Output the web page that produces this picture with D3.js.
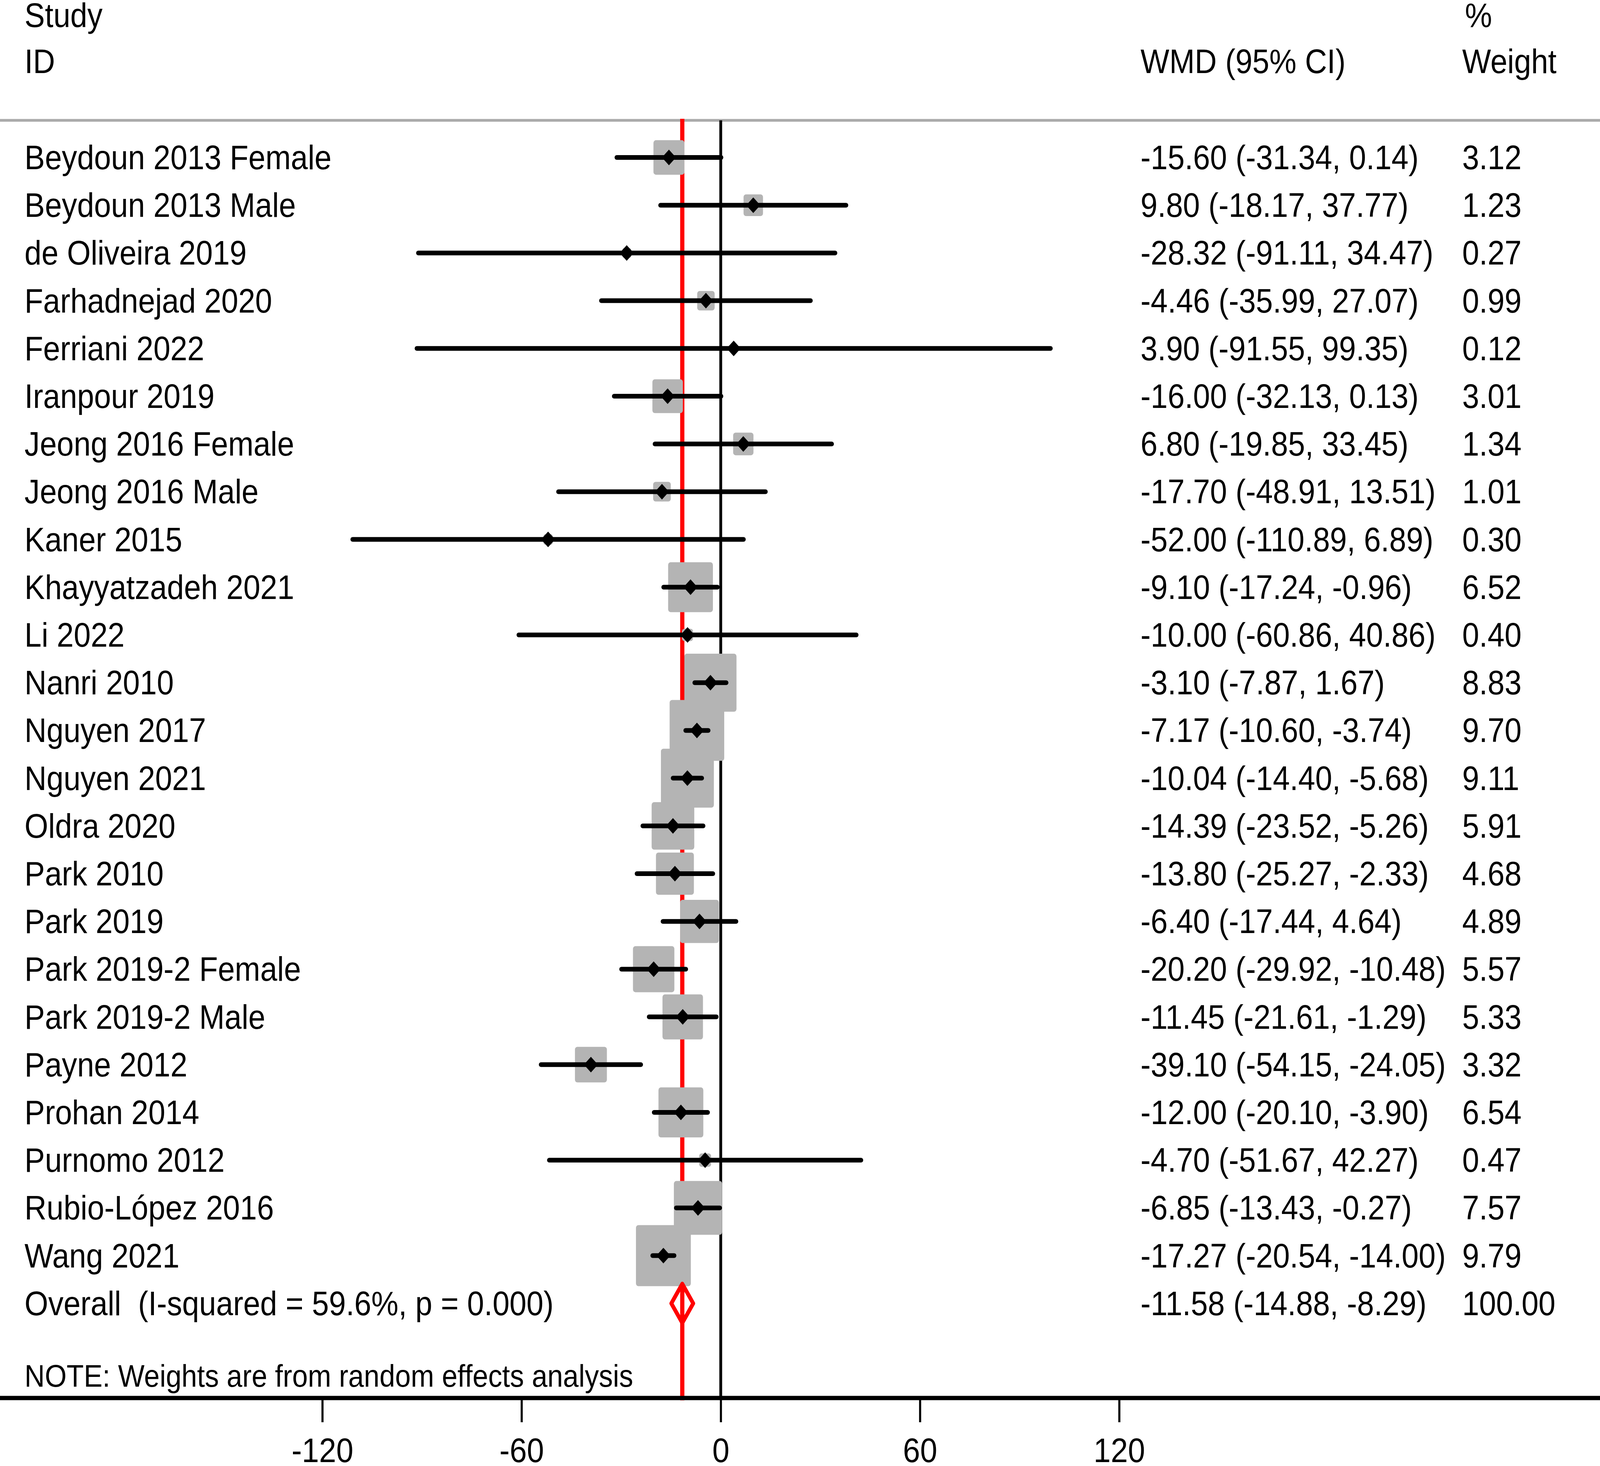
<!DOCTYPE html>
<html>
<head>
<meta charset="utf-8">
<script src="https://cdn.jsdelivr.net/npm/d3@7"></script>
<style>
  html, body { margin: 0; padding: 0; background: #fff; overflow: hidden; }
  svg { display: block; }
  text { font-family: "Liberation Sans", Arial, sans-serif; fill: #000; }
</style>
</head>
<body>
<svg id="forest"></svg>
<script>
var width = 4562,
    height = 3752;

// data
var studies = [
    'Beydoun 2013 Female', 'Beydoun 2013 Male', 'de Oliveira 2019', 'Farhadnejad 2020',
    'Ferriani 2022', 'Iranpour 2019', 'Jeong 2016 Female', 'Jeong 2016 Male',
    'Kaner 2015', 'Khayyatzadeh 2021', 'Li 2022', 'Nanri 2010', 'Nguyen 2017',
    'Nguyen 2021', 'Oldra 2020', 'Park 2010', 'Park 2019', 'Park 2019-2 Female',
    'Park 2019-2 Male', 'Payne 2012', 'Prohan 2014', 'Purnomo 2012',
    'Rubio-López 2016', 'Wang 2021'
];
var wmd = [-15.60, 9.80, -28.32, -4.46, 3.90, -16.00, 6.80, -17.70, -52.00, -9.10,
    -10.00, -3.10, -7.17, -10.04, -14.39, -13.80, -6.40, -20.20, -11.45, -39.10,
    -12.00, -4.70, -6.85, -17.27];
var lower = [-31.34, -18.17, -91.11, -35.99, -91.55, -32.13, -19.85, -48.91, -110.89,
    -17.24, -60.86, -7.87, -10.60, -14.40, -23.52, -25.27, -17.44, -29.92, -21.61,
    -54.15, -20.10, -51.67, -13.43, -20.54];
var upper = [0.14, 37.77, 34.47, 27.07, 99.35, 0.13, 33.45, 13.51, 6.89, -0.96,
    40.86, 1.67, -3.74, -5.68, -5.26, -2.33, 4.64, -10.48, -1.29, -24.05, -3.90,
    42.27, -0.27, -14.00];
var weights = [3.12, 1.23, 0.27, 0.99, 0.12, 3.01, 1.34, 1.01, 0.30, 6.52, 0.40, 8.83,
    9.70, 9.11, 5.91, 4.68, 4.89, 5.57, 5.33, 3.32, 6.54, 0.47, 7.57, 9.79];
var overall = { label: 'Overall  (I-squared = 59.6%, p = 0.000)', est: -11.58, lo: -14.88, hi: -8.29, weight: 100 };
var xTicks = [-120, -60, 0, 60, 120];

var rows = studies.map(function (name, i) {
    return { name: name, est: wmd[i], lo: lower[i], hi: upper[i], weight: weights[i] };
});

// scale the drawing to whatever viewport the page gets
var svg = d3.select('svg#forest')
    .attr('viewBox', '0 0 ' + width + ' ' + height)
    .attr('preserveAspectRatio', 'none')
    .style('width', '100vw')
    .style('height', '100vh');

var x = d3.scaleLinear().domain([-120, 120]).range([919, 3191]);
var y = d3.scaleLinear().domain([0, studies.length]).range([403, 403 + 122.2 * studies.length]);
var boxSide = d3.scaleSqrt().domain([0, 1]).range([0, 50]);

var fmt = d3.formatLocale({ decimal: '.', thousands: ',', grouping: [3], currency: ['', ''], minus: '-' }).format('.2f');
var headerY = 308,
    axisY = 3578,
    labelX = 70,
    ciX = 3252,
    weightX = 4169,
    fontSize = 87;

function ciText(d) {
    return fmt(d.est) + ' (' + fmt(d.lo) + ', ' + fmt(d.hi) + ')';
}

// header
var header = svg.append('g').attr('font-size', fontSize);
header.append('text').attr('x', labelX).attr('y', 69).text('Study');
header.append('text').attr('x', labelX).attr('y', 187).text('ID');
header.append('text').attr('x', ciX).attr('y', 187).text('WMD (95% CI)');
header.append('text').attr('x', 4177).attr('y', 69).text('%');
header.append('text').attr('x', weightX).attr('y', 187).text('Weight');

svg.append('line')
    .attr('x1', 0).attr('x2', width)
    .attr('y1', headerY).attr('y2', headerY)
    .attr('stroke', '#aaaaaa')
    .attr('stroke-width', 7);

// reference lines
svg.append('line')
    .attr('x1', x(0)).attr('x2', x(0))
    .attr('y1', headerY).attr('y2', axisY)
    .attr('stroke', '#000')
    .attr('stroke-width', 8);

svg.append('line')
    .attr('x1', x(overall.est)).attr('x2', x(overall.est))
    .attr('y1', headerY - 4).attr('y2', axisY + 6)
    .attr('stroke', '#ff0000')
    .attr('stroke-width', 12);

// study boxes
svg.append('g').selectAll('rect')
    .data(rows)
    .join('rect')
    .attr('x', function (d) { return x(d.est) - boxSide(d.weight) / 2; })
    .attr('y', function (d, i) { return y(i) - boxSide(d.weight) / 2; })
    .attr('width', function (d) { return boxSide(d.weight); })
    .attr('height', function (d) { return boxSide(d.weight); })
    .attr('rx', 7)
    .attr('fill', '#b4b4b4');

// confidence intervals
svg.append('g').selectAll('line')
    .data(rows)
    .join('line')
    .attr('x1', function (d) { return x(d.lo); })
    .attr('x2', function (d) { return x(d.hi); })
    .attr('y1', function (d, i) { return y(i); })
    .attr('y2', function (d, i) { return y(i); })
    .attr('stroke', '#000')
    .attr('stroke-width', 12)
    .attr('stroke-linecap', 'round');

// point estimates
var diamond = d3.symbol().type(d3.symbolSquare).size(800);
svg.append('g').selectAll('path')
    .data(rows)
    .join('path')
    .attr('d', diamond)
    .attr('transform', function (d, i) { return 'translate(' + x(d.est) + ',' + y(i) + ') rotate(45)'; })
    .attr('fill', '#000');

// pooled estimate
var oy = y(studies.length);
svg.append('path')
    .attr('d', 'M' + x(overall.lo) + ',' + oy +
        'L' + x(overall.est) + ',' + (oy - 50) +
        'L' + x(overall.hi) + ',' + oy +
        'L' + x(overall.est) + ',' + (oy + 50) + 'Z')
    .attr('fill', 'none')
    .attr('stroke', '#ff0000')
    .attr('stroke-width', 11)
    .attr('stroke-linejoin', 'round');

// row text
var text = svg.append('g').attr('font-size', fontSize);
var textRows = rows.concat([overall]);
text.selectAll('text.name')
    .data(textRows)
    .join('text')
    .attr('class', 'name')
    .attr('x', labelX)
    .attr('y', function (d, i) { return y(i) + 30; })
    .style('white-space', 'pre')
    .text(function (d) { return d.name || d.label; });

text.selectAll('text.ci')
    .data(textRows)
    .join('text')
    .attr('class', 'ci')
    .attr('x', ciX)
    .attr('y', function (d, i) { return y(i) + 30; })
    .text(ciText);

text.selectAll('text.wt')
    .data(textRows)
    .join('text')
    .attr('class', 'wt')
    .attr('x', weightX)
    .attr('y', function (d, i) { return y(i) + 30; })
    .text(function (d) { return fmt(d.weight); });

text.append('text')
    .attr('x', labelX)
    .attr('y', 3549)
    .attr('font-size', 80)
    .text('NOTE: Weights are from random effects analysis');

// x axis
svg.append('line')
    .attr('x1', 0).attr('x2', width)
    .attr('y1', axisY).attr('y2', axisY)
    .attr('stroke', '#000')
    .attr('stroke-width', 11);

var axis = svg.append('g')
    .attr('transform', 'translate(0,' + axisY + ')')
    .call(d3.axisBottom(x)
        .tickValues(xTicks)
        .tickSize(62)
        .tickPadding(40)
        .tickFormat(function (d) { return String(d); }));

axis.select('.domain').remove();
axis.selectAll('.tick line').attr('stroke', '#000').attr('stroke-width', 6);
axis.selectAll('.tick text')
    .attr('font-size', 88)
    .attr('font-family', '"Liberation Sans", Arial, sans-serif')
    .attr('fill', '#000');
</script>
</body>
</html>
